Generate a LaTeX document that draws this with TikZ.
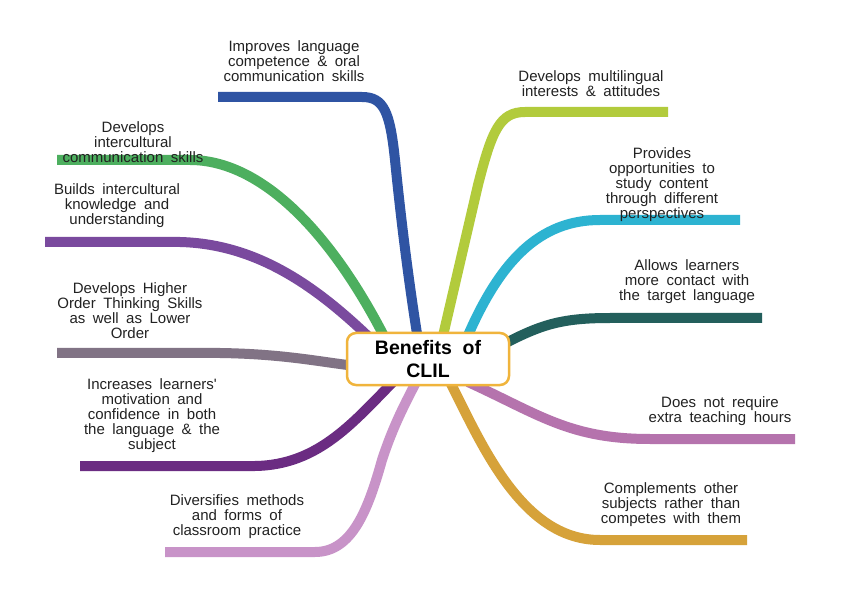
\documentclass[tikz,border=0pt]{standalone}
\usepackage{fontspec}
\setmainfont{Liberation Sans}
\newcommand\lblfont{\fontsize{15}{15}\selectfont\spaceskip=0.5em plus 0.1em\relax}
\newcommand\ctrfont{\bfseries\fontsize{19.5}{23}\selectfont\spaceskip=0.55em\relax}
\definecolor{cblue}{HTML}{2F54A3}
\definecolor{cgreen}{HTML}{4DAF5F}
\definecolor{cpurple}{HTML}{7A4A9E}
\definecolor{cgray}{HTML}{817385}
\definecolor{cdpurple}{HTML}{6B2C82}
\definecolor{cpink}{HTML}{C893C8}
\definecolor{clime}{HTML}{B2CB3C}
\definecolor{ccyan}{HTML}{2DB3D1}
\definecolor{cteal}{HTML}{235F5C}
\definecolor{cmauve}{HTML}{B573AD}
\definecolor{cgold}{HTML}{D6A23A}
\definecolor{cbox}{HTML}{F0B43C}
\definecolor{ctext}{HTML}{222222}
\begin{document}
\begin{tikzpicture}[x=1pt,y=-1pt,
  branch/.style={line width=10pt},
  lbl/.style={font=\lblfont, align=center, text=ctext, inner sep=0pt},
  hub/.style={draw=cbox, line width=2.5pt, fill=white, rounded corners=9pt,
    minimum width=162pt, minimum height=52pt, align=center, font=\ctrfont, inner sep=0pt}]
\useasboundingbox[fill=white] (0,0) rectangle (859,609);
% hub anchor coordinates (branch ends under the hub)
\coordinate (h1) at (418,340);
\coordinate (h2) at (386,340);
\coordinate (h3) at (372,340);
\coordinate (h4) at (356,366);
\coordinate (h5) at (397,378);
\coordinate (h6) at (418,378);
\coordinate (h7) at (442,340);
\coordinate (h8) at (466,340);
\coordinate (h9) at (500,346);
\coordinate (h10) at (468,382);
\coordinate (h11) at (448,378);
% free ends
\coordinate (e1) at (218,97);
\coordinate (e2) at (57,160);
\coordinate (e3) at (45,242);
\coordinate (e4) at (57,353);
\coordinate (e5) at (80,466);
\coordinate (e6) at (165,552);
\coordinate (e7) at (668,112);
\coordinate (e8) at (740,220);
\coordinate (e9) at (762,318);
\coordinate (e10) at (795,439);
\coordinate (e11) at (747,540);
% branches
\draw[branch,cblue] (e1) -- (362,97) .. controls (384,97) and (390,112) .. (395,160) .. controls (402,230) and (410,290) .. (h1);
\draw[branch,cgreen] (e2) -- (190,160) .. controls (260,160) and (330,230) .. (h2);
\draw[branch,cpurple] (e3) -- (180,242) .. controls (260,244) and (320,290) .. (h3);
\draw[branch,cgray] (e4) -- (220,353) .. controls (285,354) and (320,362) .. (h4);
\draw[branch,cdpurple] (e5) -- (255,466) .. controls (320,465) and (355,420) .. (h5);
\draw[branch,cpink] (e6) -- (315,552) .. controls (352,552) and (368,510) .. (382,460) .. controls (395,420) and (410,395) .. (h6);
\draw[branch,clime] (e7) -- (525,112) .. controls (500,112) and (492,130) .. (478,185) -- (h7);
\draw[branch,ccyan] (e8) -- (600,220) .. controls (540,220) and (500,260) .. (h8);
\draw[branch,cteal] (e9) -- (610,318) .. controls (560,318) and (540,325) .. (h9);
\draw[branch,cmauve] (e10) -- (650,439) .. controls (570,439) and (540,415) .. (h10);
\draw[branch,cgold] (e11) -- (600,540) .. controls (520,540) and (480,440) .. (h11);
% hub
\node[hub] (hub) at (428,359) {Benefits of\\CLIL};
% labels
\node[lbl] (t1) at (294,61) {Improves language\\competence \& oral\\communication skills};
\node[lbl] (t2) at (133,142) {Develops\\intercultural\\communication skills};
\node[lbl] (t3) at (117,206) {Builds intercultural\\knowledge and\\understanding};
\node[lbl] (t4) at (130,311) {Develops Higher\\Order Thinking Skills\\as well as Lower\\Order};
\node[lbl] (t5) at (152,416) {Increases learners\textquotesingle\\motivation and\\confidence in both\\the language \& the\\subject};
\node[lbl] (t6) at (237,517) {Diversifies methods\\and forms of\\classroom practice};
\node[lbl] (t7) at (591,84) {Develops multilingual\\interests \& attitudes};
\node[lbl] (t8) at (662,185) {Provides\\opportunities to\\study content\\through different\\perspectives};
\node[lbl] (t9) at (687,282) {Allows learners\\more contact with\\the target language};
\node[lbl] (t10) at (720,411) {Does not require\\extra teaching hours};
\node[lbl] (t11) at (671,505) {Complements other\\subjects rather than\\competes with them};
\end{tikzpicture}
\end{document}
